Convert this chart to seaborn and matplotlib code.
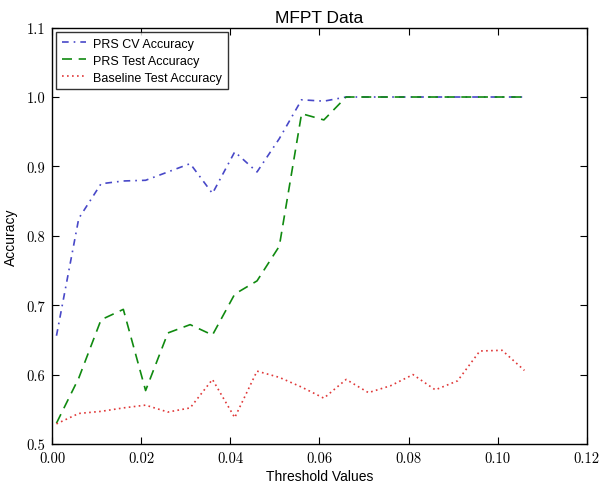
import numpy as np
import pandas as pd
import matplotlib
matplotlib.use("Agg")
import matplotlib.pyplot as plt
import matplotlib.ticker as mticker
import seaborn as sns

thresholds = [0.001, 0.006, 0.011, 0.016, 0.021, 0.026, 0.031, 0.036, 0.041, 0.046, 0.051,
              0.056, 0.061, 0.066, 0.071, 0.076, 0.081, 0.086, 0.091, 0.096, 0.101, 0.106]
prs_cv = [0.656, 0.825, 0.875, 0.879, 0.880, 0.892, 0.904, 0.861, 0.921, 0.892, 0.940,
          0.996, 0.994, 1.0, 1.0, 1.0, 1.0, 1.0, 1.0, 1.0, 1.0, 1.0]
prs_test = [0.530, 0.595, 0.679, 0.694, 0.577, 0.660, 0.672, 0.657, 0.716, 0.735, 0.785,
            0.976, 0.967, 1.0, 1.0, 1.0, 1.0, 1.0, 1.0, 1.0, 1.0, 1.0]
baseline = [0.529, 0.544, 0.547, 0.552, 0.556, 0.546, 0.552, 0.593, 0.538, 0.605, 0.596,
            0.582, 0.566, 0.593, 0.574, 0.584, 0.600, 0.578, 0.591, 0.634, 0.635, 0.606]

series_names = ["PRS CV Accuracy", "PRS Test Accuracy", "Baseline Test Accuracy"]
x_ticks = [0.00, 0.02, 0.04, 0.06, 0.08, 0.10, 0.12]
y_ticks = [0.5, 0.6, 0.7, 0.8, 0.9, 1.0, 1.1]

df = pd.DataFrame({"Threshold": thresholds, series_names[0]: prs_cv,
                   series_names[1]: prs_test, series_names[2]: baseline})

sns.set_style("white")
plt.rcParams["font.family"] = ["Liberation Sans", "DejaVu Sans"]
plt.rcParams["text.color"] = "black"
plt.rcParams["axes.labelcolor"] = "black"

fig = plt.figure(figsize=(6.0, 4.85), dpi=100)
ax = fig.add_axes([0.0867, 0.0825, 0.8913, 0.8585])

styles = [("#4848c8", (0, (4, 3, 1, 3))), ("#108a10", (0, (6, 4))), ("#e03838", (0, (1, 2)))]
for name, (c, ls) in zip(series_names, styles):
    sns.lineplot(data=df, x="Threshold", y=name, ax=ax, color=c, linestyle=ls,
                 linewidth=1.2, label=name)

ax.set_xlim(0, 0.12)
ax.set_ylim(0.5, 1.1)
ax.set_xticks(x_ticks)
ax.set_yticks(y_ticks)
ax.xaxis.set_major_formatter(mticker.FormatStrFormatter("%.2f"))
ax.yaxis.set_major_formatter(mticker.FormatStrFormatter("%.1f"))
for lab in ax.get_xticklabels() + ax.get_yticklabels():
    lab.set_fontfamily(["cmr10", "DejaVu Serif"])
    lab.set_fontsize(10.5)
ax.tick_params(direction="in", length=5, width=0.8, top=True, right=True,
               bottom=True, left=True, colors="black", labelcolor="black", pad=5)
for s in ax.spines.values():
    s.set_visible(True)
    s.set_color("black")
    s.set_linewidth(1.0)
ax.set_xlabel("Threshold Values", fontsize=10, labelpad=3)
ax.set_ylabel("Accuracy", fontsize=10, labelpad=6)
ax.set_title("MFPT Data", fontsize=12.5, pad=4)

leg = ax.legend(loc="upper left", fontsize=9, frameon=True, fancybox=False,
                handlelength=1.9, handletextpad=0.6, borderpad=0.45,
                labelspacing=0.4, borderaxespad=0.35)
leg.get_frame().set_edgecolor("black")
leg.get_frame().set_linewidth(1.0)

fig.savefig("out.png", dpi=100, facecolor="white")
